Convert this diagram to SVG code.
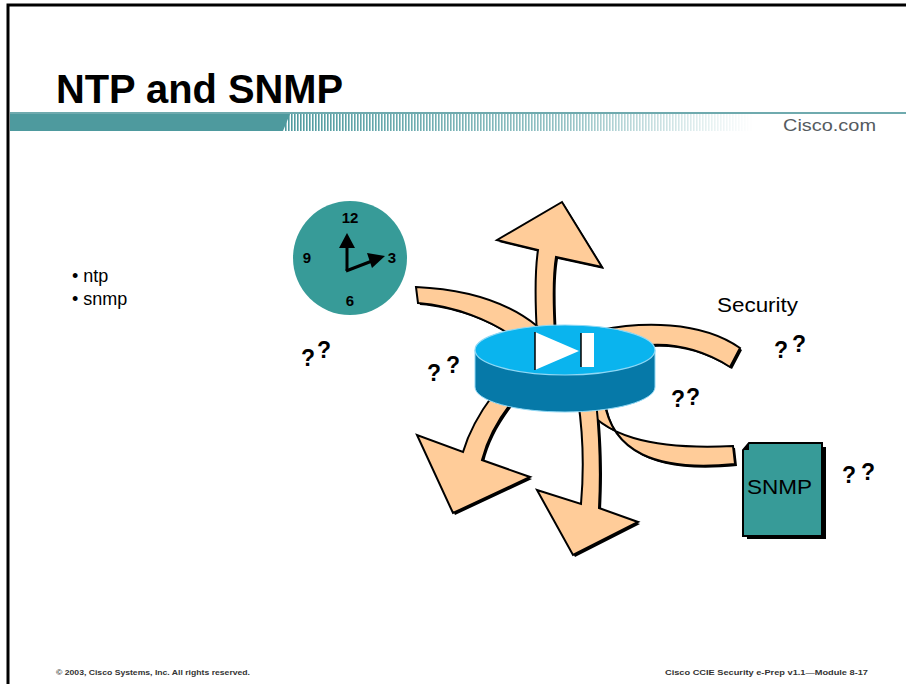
<svg xmlns="http://www.w3.org/2000/svg" width="906" height="684" viewBox="0 0 906 684">
  <defs>
    <style>
      .txt { font-family: "Liberation Sans", Arial, sans-serif; }
      .arrow { fill: #FFCC99; stroke: #000; stroke-width: 2; stroke-linejoin: miter; }
      .shadow { fill: #000; }
      .q { font-family: "Liberation Sans", Arial, sans-serif; font-weight: bold; font-size: 23px; fill: #000; }
      .num { font-family: "Liberation Sans", Arial, sans-serif; font-weight: bold; font-size: 15px; fill: #000; text-anchor: middle; }
      .foot { font-family: "Liberation Sans", Arial, sans-serif; font-weight: bold; font-size: 8px; fill: #333; }
    </style>
    <pattern id="stripes" x="0" y="0" width="3" height="20" patternUnits="userSpaceOnUse">
      <rect x="0" y="0" width="1.6" height="20" fill="#4E9A9E"/>
    </pattern>
    <linearGradient id="fade" x1="0" y1="0" x2="1" y2="0">
      <stop offset="0" stop-color="#fff" stop-opacity="1"/>
      <stop offset="0.6" stop-color="#fff" stop-opacity="0.6"/>
      <stop offset="1" stop-color="#fff" stop-opacity="0"/>
    </linearGradient>
    <mask id="fadeMask" maskUnits="userSpaceOnUse" x="280" y="110" width="480" height="25">
      <rect x="283" y="113" width="470" height="19" fill="url(#fade)"/>
    </mask>
  </defs>

  <rect x="0" y="0" width="906" height="684" fill="#fff"/>

  <!-- slide frame -->
  <path d="M8,684 L8,5 L906,5" fill="none" stroke="#000" stroke-width="3"/>

  <!-- title -->
  <text class="txt" x="56" y="103" font-size="40" font-weight="bold" textLength="287" lengthAdjust="spacingAndGlyphs">NTP and SNMP</text>

  <!-- header band -->
  <g id="header-band">
    <line x1="10" y1="113" x2="906" y2="113" stroke="#6FAAAE" stroke-width="2"/>
    <path d="M10,114 L290,114 L283,131 L10,131 Z" fill="#4E9A9E"/>
    <rect x="284" y="114" width="470" height="17" fill="url(#stripes)" mask="url(#fadeMask)"/>
    <text class="txt" x="783" y="131" font-size="17" fill="#555B60" textLength="93" lengthAdjust="spacingAndGlyphs">Cisco.com</text>
  </g>

  <!-- bullet list -->
  <text class="txt" x="72" y="282" font-size="18" fill="#000">• ntp</text>
  <text class="txt" x="72" y="305" font-size="18" fill="#000">• snmp</text>

  <!-- clock -->
  <g id="clock">
    <circle cx="350" cy="258" r="57" fill="#379B98"/>
    <text class="num" x="350" y="223">12</text>
    <text class="num" x="307" y="263">9</text>
    <text class="num" x="392" y="263">3</text>
    <text class="num" x="350" y="306">6</text>
    <line x1="347" y1="271" x2="347" y2="248" stroke="#000" stroke-width="3"/>
    <polygon points="339,248 347,233 355,248" fill="#000"/>
    <line x1="346" y1="271" x2="372" y2="261" stroke="#000" stroke-width="3"/>
    <polygon points="367,253 385,256 372,268" fill="#000"/>
  </g>

  <!-- flow arrows around the router -->
  <g id="connectors">
    <!-- shadows -->
    <g class="shadow" transform="translate(2,2)">
      <path d="M537,335 C535,300 535,270 538,250 L497,240 L562,202 L602,267 L556,257 C553,275 553,300 555,335 Z"/>
      <path d="M416,287 C460,289 505,300 537,326 L515,338 C490,320 455,306 418,303 Z"/>
      <path d="M600,330 C640,322 700,320 740,348 L730,367 C700,348 670,342 640,346 Z"/>
      <path d="M580,400 C602,436 650,450 733,446 L735,464 C655,472 612,452 604,400 Z"/>
      <path d="M578,400 C584,440 584,470 581,504 L537,490 L573,555 L638,522 L599,508 C601,470 600,440 596,400 Z"/>
      <path d="M493,395 C478,415 468,435 463,452 L417,435 L453,513 L530,477 L482,460 C487,440 497,420 515,398 Z"/>
    </g>
    <path class="arrow" id="arrow-up" d="M537,335 C535,300 535,270 538,250 L497,240 L562,202 L602,267 L556,257 C553,275 553,300 555,335 Z"/>
    <path class="arrow" id="arrow-clock" d="M416,287 C460,289 505,300 537,326 L515,338 C490,320 455,306 418,303 Z"/>
    <path class="arrow" id="arrow-security" d="M600,330 C640,322 700,320 740,348 L730,367 C700,348 670,342 640,346 Z"/>
    <path class="arrow" id="arrow-snmp" d="M580,400 C602,436 650,450 733,446 L735,464 C655,472 612,452 604,400 Z"/>
    <path class="arrow" id="arrow-down" d="M578,400 C584,440 584,470 581,504 L537,490 L573,555 L638,522 L599,508 C601,470 600,440 596,400 Z"/>
    <path class="arrow" id="arrow-downleft" d="M493,395 C478,415 468,435 463,452 L417,435 L453,513 L530,477 L482,460 C487,440 497,420 515,398 Z"/>
  </g>

  <!-- router -->
  <g id="router">
    <path d="M475,350 L475,387 A90,25 0 0 0 655,387 L655,350 Z" fill="#0679A8" stroke="#8FD8F5" stroke-width="1"/>
    <ellipse cx="565" cy="350" rx="90" ry="25" fill="#0AB4EE" stroke="#8FD8F5" stroke-width="1.2"/>
    <polygon points="535,332 579,351 535,370" fill="#fff"/>
    <line x1="535" y1="332" x2="535" y2="370" stroke="#000" stroke-width="1.5"/>
    <rect x="581" y="333" width="13" height="34" fill="#fff"/>
    <line x1="581" y1="333" x2="581" y2="367" stroke="#000" stroke-width="1.5"/>
  </g>

  <!-- security label -->
  <g id="security">
    <text class="txt" x="717" y="312" font-size="20" fill="#000" textLength="81" lengthAdjust="spacingAndGlyphs">Security</text>
  </g>

  <!-- SNMP document -->
  <g id="snmp-doc">
    <path d="M745,447 L826,447 L826,539 L747,539 Z" fill="#000"/>
    <path d="M749,443 L822,443 L822,536 L743,536 L743,450 Z" fill="#379B98" stroke="#000" stroke-width="2"/>
    <path d="M743,450 L749,443 L749,450 Z" fill="#000"/>
    <text class="txt" x="747" y="494" font-size="21" fill="#000" textLength="65" lengthAdjust="spacingAndGlyphs">SNMP</text>
  </g>

  <!-- question marks -->
  <g id="questions">
    <text class="q" x="301" y="366">?</text><text class="q" x="317" y="358">?</text>
    <text class="q" x="427" y="381">?</text><text class="q" x="446" y="373">?</text>
    <text class="q" x="671" y="407">?</text><text class="q" x="686" y="405">?</text>
    <text class="q" x="774" y="358">?</text><text class="q" x="792" y="352">?</text>
    <text class="q" x="842" y="483">?</text><text class="q" x="861" y="480">?</text>
  </g>

  <!-- footer -->
  <text class="foot" x="56" y="675" textLength="194" lengthAdjust="spacingAndGlyphs">© 2003, Cisco Systems, Inc. All rights reserved.</text>
  <text class="foot" x="665" y="675" textLength="203" lengthAdjust="spacingAndGlyphs">Cisco CCIE Security e-Prep v1.1—Module 8-17</text>
</svg>
